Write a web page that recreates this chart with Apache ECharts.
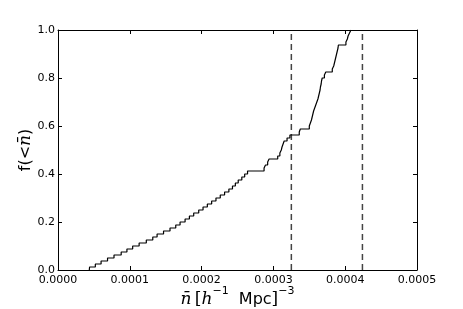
<!DOCTYPE html>
<html>
<head>
<meta charset="utf-8">
<script src="https://cdn.jsdelivr.net/npm/echarts@6/dist/echarts.min.js"></script>
<style>
html,body{margin:0;padding:0;background:#fff;}
#chart{width:463px;height:309px;}
</style>
</head>
<body>
<div id="chart"></div>
<script>
// Cumulative fraction f(<n̄): jump positions (n̄) and fraction reached at each jump
var nbar = [0.0000436,0.0000440,0.0000520,0.0000600,0.0000690,0.0000780,0.0000880,0.0000960,0.0001040,0.0001130,
  0.0001230,0.0001320,0.0001380,0.0001470,0.0001560,0.0001640,0.0001700,0.0001770,0.0001830,0.0001890,
  0.0001960,0.0002020,0.0002080,0.0002140,0.0002200,0.0002260,0.0002320,0.0002380,0.0002430,0.0002470,
  0.0002510,0.0002560,0.0002600,0.0002640,0.0002870,0.0002890,0.0002920,0.0002940,0.0003060,0.0003090,
  0.0003110,0.0003120,0.0003135,0.0003150,0.0003190,0.0003230,0.0003360,0.0003375,0.0003500,0.0003515,
  0.0003530,0.0003540,0.0003550,0.0003560,0.0003575,0.0003590,0.0003605,0.0003620,0.0003630,0.0003640,
  0.0003650,0.0003655,0.0003665,0.0003670,0.0003680,0.0003710,0.0003730,0.0003820,0.0003840,0.0003850,
  0.0003860,0.0003870,0.0003880,0.0003890,0.0003900,0.0003905,0.0004010,0.0004030,0.0004040,0.0004060,
  0.0004080];
var frac = [0,0.0125,0.025,0.0375,0.05,0.0625,0.075,0.0875,0.1,0.1125,
  0.125,0.1375,0.15,0.1625,0.175,0.1875,0.2,0.2125,0.225,0.2375,
  0.25,0.2625,0.275,0.2875,0.3,0.3125,0.325,0.3375,0.35,0.3625,
  0.375,0.3875,0.4,0.4125,0.425,0.4375,0.45,0.4625,0.475,0.4875,
  0.5,0.5125,0.525,0.5375,0.55,0.5625,0.575,0.5875,0.6,0.6125,
  0.625,0.6375,0.65,0.6625,0.675,0.6875,0.7,0.7125,0.725,0.7375,
  0.75,0.7625,0.775,0.7875,0.8,0.8125,0.825,0.8375,0.85,0.8625,
  0.875,0.8875,0.9,0.9125,0.925,0.9375,0.95,0.9625,0.975,0.9875,
  1.0];
var dashX = [0.000325, 0.000424];
var xTicks = [0, 0.0001, 0.0002, 0.0003, 0.0004, 0.0005];
var yTicks = [0, 0.2, 0.4, 0.6, 0.8, 1.0];

var chart = echarts.init(document.getElementById('chart'), null, {renderer:'canvas'});
var cdf = nbar.map(function(x,i){return [x, frac[i]];});
var series = [{
  type:'line', step:'end', data:cdf, showSymbol:false, symbol:'none',
  lineStyle:{color:'#000', width:1.2}, z:3, animation:false
}];
dashX.forEach(function(x){
  series.push({type:'line', data:[[x,0],[x,1]], showSymbol:false, symbol:'none',
    lineStyle:{color:'#444', width:1.5, type:[6,4]}, z:2, animation:false});
});
var font = 'DejaVu Sans';
function baseX(pos, show){
  return {type:'value', position:pos, min:xTicks[0], max:xTicks[xTicks.length-1], interval:0.0001,
    axisLine:{show:true, onZero:false, lineStyle:{color:'#000', width:1}},
    axisTick:{show:true, inside:true, length:4, lineStyle:{color:'#000'}},
    axisLabel:{show:show, color:'#000', fontFamily:font, fontSize:11, margin:5,
      formatter:function(v){return v.toFixed(4);}},
    splitLine:{show:false}};
}
function baseY(pos, show){
  return {type:'value', position:pos, min:yTicks[0], max:yTicks[yTicks.length-1], interval:0.2,
    axisLine:{show:true, onZero:false, lineStyle:{color:'#000', width:1}},
    axisTick:{show:true, inside:true, length:4, lineStyle:{color:'#000'}},
    axisLabel:{show:show, color:'#000', fontFamily:font, fontSize:11, margin:3,
      formatter:function(v){return v.toFixed(1);}},
    splitLine:{show:false}};
}
var x0 = baseX('bottom', true);
x0.name = '{m|n\u0304} {b|[}{m|h}{u|\u22121}{s|  Mpc}{b|]}{u|\u22123}';
x0.nameLocation = 'middle';
x0.nameGap = 16;
x0.nameMoveOverlap = false;
x0.nameTextStyle = {rich:{
  m:{fontFamily:'DejaVu Serif', fontStyle:'italic', fontSize:17, color:'#000', lineHeight:22, verticalAlign:'bottom'},
  b:{fontFamily:'DejaVu Serif', fontSize:17, color:'#000', lineHeight:22, verticalAlign:'bottom'},
  s:{fontFamily:font, fontSize:16, color:'#000', lineHeight:22, verticalAlign:'bottom'},
  u:{fontFamily:font, fontSize:11, color:'#000', lineHeight:22, verticalAlign:'top'}
}};
var x1 = baseX('top', false);
var y0 = baseY('left', true);
y0.name = '{s|f(<}{m|n\u0304}{s|)}';
y0.nameLocation = 'middle';
y0.nameGap = 24;
y0.nameRotate = 90;
y0.nameMoveOverlap = false;
y0.nameTextStyle = {rich:{
  m:{fontFamily:'DejaVu Serif', fontStyle:'italic', fontSize:17, color:'#000'},
  s:{fontFamily:font, fontSize:16, color:'#000'}
}};
var y1 = baseY('right', false);

chart.setOption({
  animation:false,
  backgroundColor:'#fff',
  grid:{left:58, top:30, right:46, bottom:39, containLabel:false, outerBoundsMode:'none'},
  xAxis:[x0, x1],
  yAxis:[y0, y1],
  series:series
});
</script>
</body>
</html>
